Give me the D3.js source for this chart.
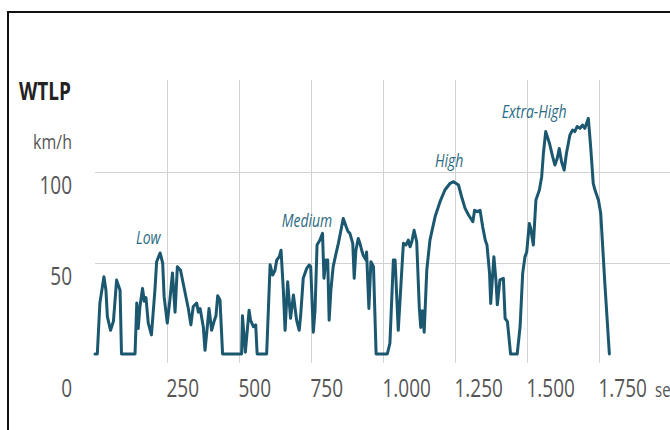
<!DOCTYPE html>
<html>
<head>
<meta charset="utf-8">
<script src="https://cdn.jsdelivr.net/npm/d3@7"></script>
<style>
  html, body { margin: 0; padding: 0; background: #fff; }
  svg { display: block; }
</style>
</head>
<body>
<svg id="chart" width="670" height="430"></svg>
<script>
// ---- data ----
const timeSec = [0,8,17,31,38,43,54,64,75,87,92,139,145,150,156,165,171,177,185,196,208,214,226,235,240,251,260,269,278,286,297,313,324,333,341,353,359,365,376,382,396,405,413,420,426,434,443,509,512,522,535,540,550,558,563,596,608,617,625,631,640,646,654,660,669,679,689,700,709,714,723,735,744,749,758,764,771,781,790,795,802,808,813,819,827,837,845,853,862,872,879,885,895,900,906,914,920,926,931,941,943,951,958,967,976,1015,1024,1036,1042,1053,1068,1071,1080,1088,1094,1100,1108,1117,1126,1131,1137,1143,1152,1163,1181,1198,1215,1233,1245,1262,1273,1285,1297,1312,1318,1328,1337,1346,1355,1361,1370,1374,1385,1392,1397,1406,1418,1424,1432,1443,1466,1476,1485,1493,1499,1508,1513,1522,1531,1543,1551,1557,1565,1578,1589,1597,1605,1612,1620,1629,1637,1649,1658,1666,1674,1684,1693,1701,1713,1721,1730,1736,1748,1756,1771,1786];
const speedKmh = [0,0,28,42.5,35,20.5,13,18,40.6,35,0,0,28,14,26,36,29,31,17,10.5,35,50.7,55.5,50,31.5,17,29.7,44.5,23,48,46,33.5,25,16,26,28,23,25,15,2,25,13,17.7,21,32,29.7,0,0,21,1,24,18.6,15,16,0,0,49,43.4,46,51.6,53.5,57,35,13,39.7,19.6,32.4,18.6,13,21,41.6,47,48.9,48,12,24,59.9,62.6,66.3,41.6,51.6,51.6,18.6,35,48,55.3,60.8,67.2,74.5,70,67.2,66.3,60.8,41.6,57,63.5,60.8,57,54.4,51.6,56,25,50.7,48,0,0,5.9,51.6,51.6,13,53.5,60.8,59.9,62.6,58.9,61.7,68,61.7,25.6,14.6,23.8,12,46,62.6,75.5,83.7,90.1,93.8,94.7,92.9,86.4,80,76.4,72.7,79,78.2,79,70,62.6,59.9,44.3,27.8,53.5,40.7,27,40.7,41.6,19.6,17.8,0,0,15,44.3,53.5,56,71.7,69,59.9,84.6,90.1,97.4,110.3,122.2,115.8,108.4,103.8,107.5,112.9,105.6,101,110.3,120.3,123,122.2,125,124,125.8,124,129.5,113.9,93.8,90.1,84.6,77.3,37,0];
const xTicks = [250, 500, 750, 1000, 1250, 1500, 1750];
const yTicks = [50, 100];
const phaseLabels = ["Low", "Medium", "High", "Extra-High"];
const phaseLabelAt = [[185, 60.5], [736, 70], [1230, 103], [1525, 129.5]]; // [sec, km/h] anchor of each phase label

// ---- layout ----
const svg = d3.select("#chart");
const FONT = "'Open Sans', 'Noto Sans', sans-serif";
const STRETCH = 1.3;
const plotLeft = 95, plotRight = 670, gridTop = 80, gridBottom = 363;

const x = d3.scaleLinear().domain([0, 1750]).range([95, 599]);
const y = d3.scaleLinear().domain([0, 100]).range([354, 172]);

const fmt = d3.formatLocale({decimal: ",", thousands: ".", grouping: [3], currency: ["", ""]}).format(",");

// frame
svg.append("rect").attr("x", 8).attr("y", 12).attr("width", 700).attr("height", 500)
  .attr("fill", "none").attr("stroke", "#111").attr("stroke-width", 2);

// vertical grid + x labels
const xAxis = svg.append("g")
  .attr("transform", `translate(0,${gridBottom})`)
  .call(d3.axisBottom(x).tickValues(xTicks).tickSize(-(gridBottom - gridTop)).tickFormat(fmt));
xAxis.select(".domain").remove();
xAxis.selectAll(".tick line").attr("stroke", "#d2d2d2").attr("stroke-width", 1);
xAxis.selectAll(".tick text")
  .attr("font-family", FONT).attr("font-size", 19).attr("fill", "#555")
  .attr("text-anchor", "start").attr("y", 0).attr("dy", null)
  .attr("transform", `translate(-1,34) scale(1,${STRETCH})`);

// horizontal grid + y labels
const yAxis = svg.append("g")
  .attr("transform", `translate(${plotLeft},0)`)
  .call(d3.axisLeft(y).tickValues(yTicks).tickSize(-(plotRight - plotLeft)));
yAxis.select(".domain").remove();
yAxis.selectAll(".tick line").attr("stroke", "#d2d2d2").attr("stroke-width", 1);
yAxis.selectAll(".tick text")
  .attr("font-family", FONT).attr("font-size", 19).attr("fill", "#555")
  .attr("text-anchor", "end").attr("x", 0).attr("dy", null)
  .attr("transform", `translate(-23,21) scale(1,${STRETCH})`);

// origin "0" and "sec"
svg.append("text").text(fmt(0))
  .attr("font-family", FONT).attr("font-size", 19).attr("fill", "#555").attr("text-anchor", "end")
  .attr("transform", `translate(72,${gridBottom + 34}) scale(1,${STRETCH})`);
svg.append("text").text("sec")
  .attr("font-family", FONT).attr("font-size", 15).attr("fill", "#555")
  .attr("transform", `translate(655,${gridBottom + 34}) scale(1,${STRETCH})`);

// title + unit
svg.append("text").text("WTLP")
  .attr("font-family", FONT).attr("font-size", 19).attr("font-weight", "bold").attr("fill", "#222")
  .attr("transform", `translate(19,100) scale(1,${STRETCH})`);
svg.append("text").text("km/h")
  .attr("font-family", FONT).attr("font-size", 16).attr("fill", "#555").attr("text-anchor", "end")
  .attr("transform", `translate(72,149) scale(1,${STRETCH})`);

// line
const pts = timeSec.map((t, i) => [t, speedKmh[i]]);
svg.append("path").datum(pts)
  .attr("fill", "none").attr("stroke", "#1b5870").attr("stroke-width", 3)
  .attr("stroke-linejoin", "round").attr("stroke-linecap", "round")
  .attr("d", d3.line().x(d => x(d[0])).y(d => y(d[1])));

// phase labels
svg.selectAll("text.phase").data(phaseLabels).join("text").attr("class", "phase")
  .text(d => d)
  .attr("font-family", FONT).attr("font-size", 14).attr("font-style", "italic").attr("fill", "#2a6a82")
  .attr("text-anchor", "middle")
  .attr("transform", (d, i) => `translate(${x(phaseLabelAt[i][0])},${y(phaseLabelAt[i][1])}) scale(1,${STRETCH})`);
</script>
</body>
</html>
